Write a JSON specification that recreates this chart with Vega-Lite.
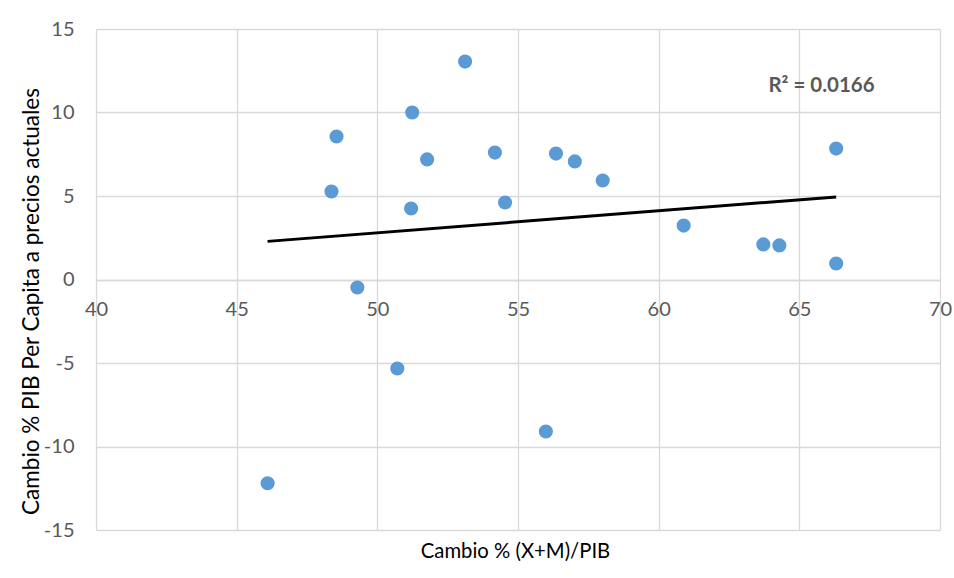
{
  "$schema": "https://vega.github.io/schema/vega-lite/v6.json",
  "autosize": {"type": "none"},
  "width": 844,
  "height": 501,
  "padding": {"left": 96, "top": 29, "right": 14, "bottom": 48},
  "background": "white",
  "config": {
    "view": {"stroke": null},
    "font": "Lato",
    "axis": {"gridColor": "#d9d9d9", "gridWidth": 1.3, "labelColor": "#595959", "labelFont": "Lato", "labelFontSize": 20, "titleFont": "Lato", "titleFontSize": 20.3, "titleFontWeight": "normal", "titleColor": "#000000", "labelExpr": "toString(datum.value)", "labelFlush": false}
  },
  "data": {"values": [
    {"apertura": 53.12, "pib": 13.05},
    {"apertura": 51.24, "pib": 10.0},
    {"apertura": 48.55, "pib": 8.56},
    {"apertura": 51.77, "pib": 7.19},
    {"apertura": 54.18, "pib": 7.6},
    {"apertura": 56.35, "pib": 7.54},
    {"apertura": 57.02, "pib": 7.07},
    {"apertura": 58.01, "pib": 5.93},
    {"apertura": 66.31, "pib": 7.84},
    {"apertura": 48.37, "pib": 5.27},
    {"apertura": 51.2, "pib": 4.25},
    {"apertura": 54.54, "pib": 4.61},
    {"apertura": 60.89, "pib": 3.23},
    {"apertura": 63.72, "pib": 2.1},
    {"apertura": 64.29, "pib": 2.04},
    {"apertura": 66.31, "pib": 0.96},
    {"apertura": 49.29, "pib": -0.48},
    {"apertura": 50.71, "pib": -5.33},
    {"apertura": 55.99, "pib": -9.1},
    {"apertura": 46.1, "pib": -12.2}
  ]},
  "encoding": {
    "x": {"field": "apertura", "type": "quantitative", "scale": {"domain": [40, 70], "nice": false, "zero": false},
      "axis": {"title": "Cambio % (X+M)/PIB", "values": [40, 45, 50, 55, 60, 65, 70], "grid": true, "offset": -250, "ticks": false, "domain": true, "domainColor": "#d9d9d9", "domainWidth": 1.3, "labelPadding": 19, "titleY": 271, "titleX": 419, "titlePadding": 0, "titleBaseline": "middle"}},
    "y": {"field": "pib", "type": "quantitative", "scale": {"domain": [-15, 15], "nice": false},
      "axis": {"title": "Cambio % PIB Per Capita a precios actuales", "titleFontSize": 22.5, "values": [-15, -10, -5, 0, 5, 10, 15], "grid": true, "ticks": false, "domain": false, "labelPadding": 22, "titlePadding": 0, "titleY": 272}}
  },
  "layer": [
    {
      "transform": [{"regression": "pib", "on": "apertura"}],
      "mark": {"type": "line", "color": "#000000", "strokeWidth": 3}
    },
    {
      "mark": {"type": "circle", "color": "#5b9bd5", "opacity": 1, "size": 200}
    },
    {
      "data": {"values": [{"apertura": 63.9, "pib": 11.6, "label": "R² = 0.0166"}]},
      "mark": {"type": "text", "align": "left", "baseline": "middle", "fontWeight": "bold", "fontSize": 20.5, "color": "#595959", "font": "Lato"},
      "encoding": {"text": {"field": "label"}}
    }
  ]
}
